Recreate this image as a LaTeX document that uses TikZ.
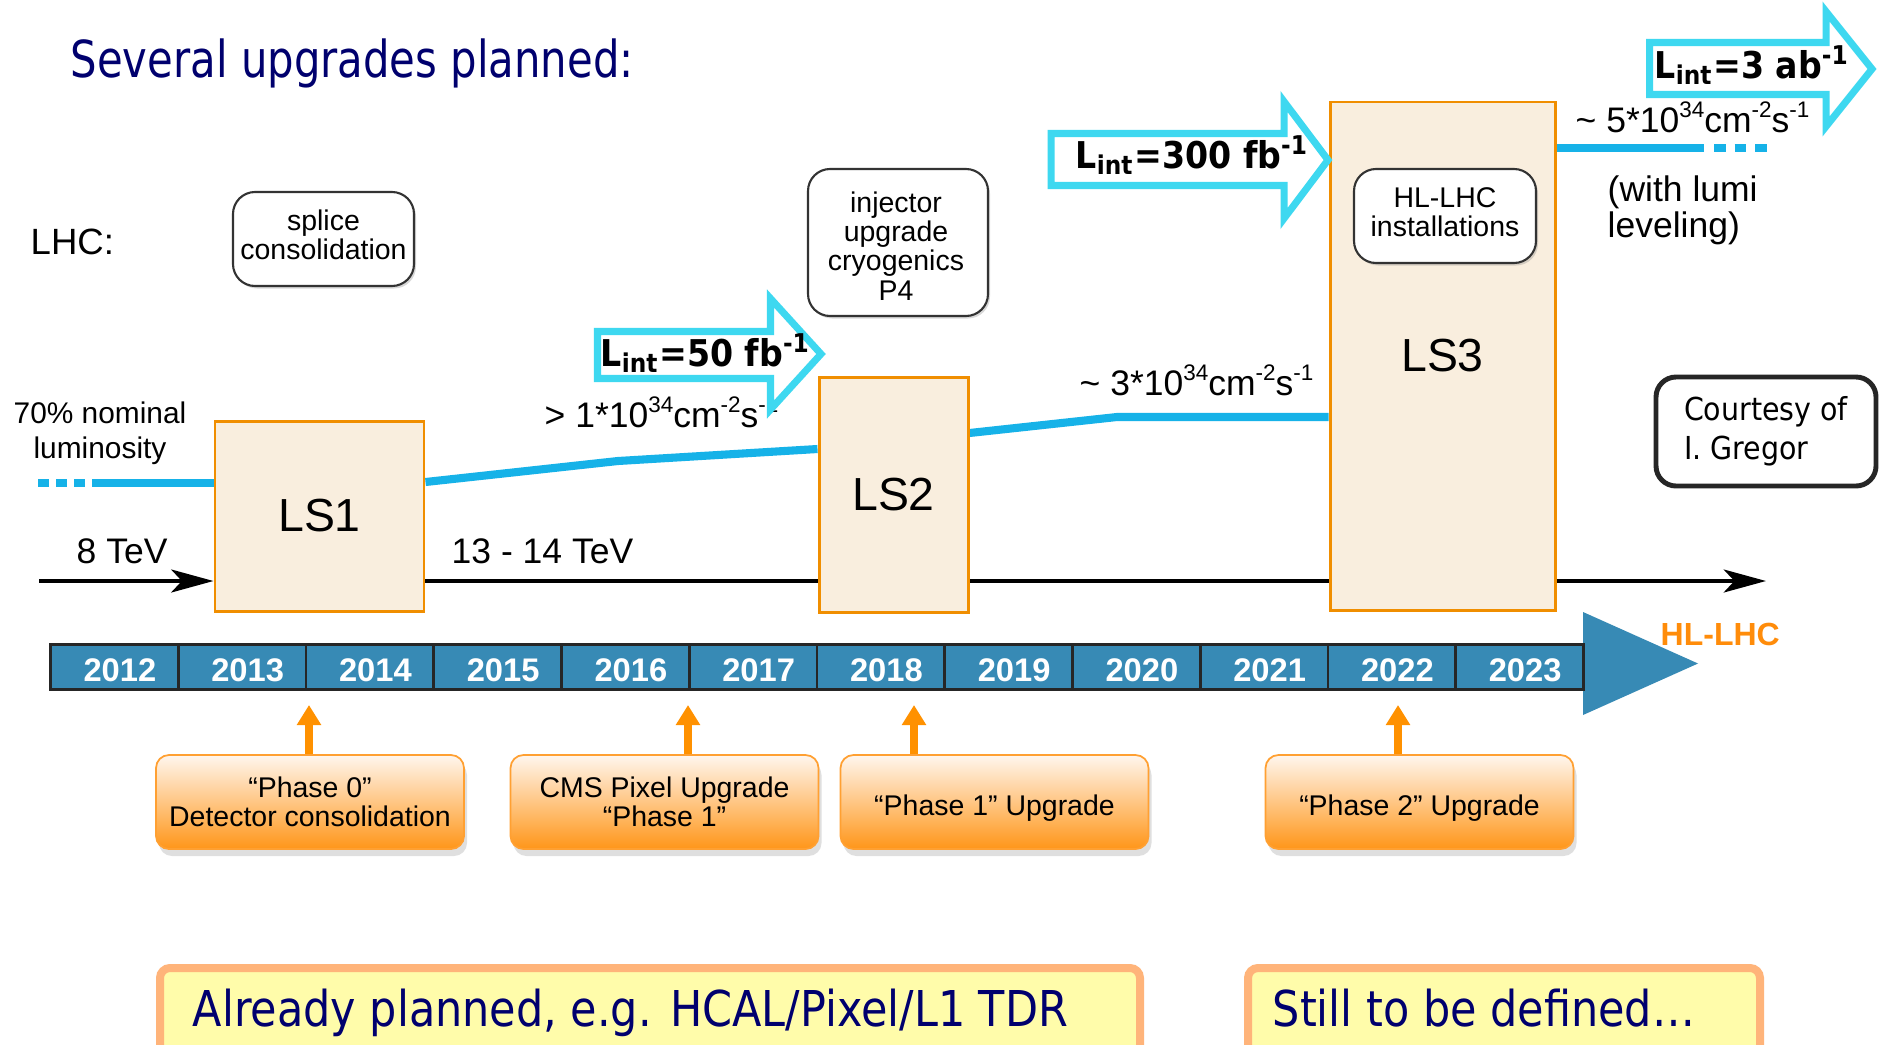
\documentclass[tikz,border=0pt]{standalone}
\usepackage{fontspec}
\setmainfont{Liberation Sans}
\newfontfamily\titlefont[FakeStretch=0.82]{DejaVu Sans}
\newfontfamily\bottomfont[FakeStretch=0.87]{DejaVu Sans}
\newfontfamily\courtfont[FakeStretch=0.9]{DejaVu Sans}
\newfontfamily\lintfont[FakeStretch=0.9]{DejaVu Sans}
\newcommand\supx[1]{\raisebox{0.78ex}{\fontsize{6.4}{6.4}\selectfont #1}}
\usetikzlibrary{arrows.meta,shadows,calc}
\pgfdeclarelayer{bg}
\pgfsetlayers{bg,main}
\definecolor{navy}{RGB}{0,0,110}
\definecolor{lsfill}{RGB}{249,238,222}
\definecolor{lsorange}{RGB}{240,142,0}
\definecolor{lumiblue}{RGB}{22,178,232}
\definecolor{lintcyan}{RGB}{62,216,240}
\definecolor{yearblue}{RGB}{55,138,181}
\definecolor{uporange}{RGB}{255,145,0}
\definecolor{hlorange}{RGB}{255,140,10}
\definecolor{boxtop}{RGB}{255,246,238}
\definecolor{boxbot}{RGB}{255,150,25}
\definecolor{boxedge}{RGB}{255,160,50}
\definecolor{planfill}{RGB}{255,252,170}
\definecolor{planedge}{RGB}{255,180,122}
\tikzset{
  lsbox/.style={draw=lsorange, fill=lsfill, line width=0.85pt, inner sep=0pt,
    font=\fontsize{13.2}{14}\selectfont},
  notebox/.style={draw=black!80, fill=white, rounded corners=2.2mm, line width=0.6pt,
    inner sep=0pt,
    drop shadow={shadow xshift=0.2mm, shadow yshift=-0.25mm, opacity=0.3}},
  notetext/.style={align=center, inner sep=0pt, font=\fontsize{8.1}{8.3}\selectfont},
  lumiline/.style={draw=lumiblue, line width=2.3pt},
  timeline/.style={draw=black, line width=1.3pt},
  tlarrow/.style={-{Stealth[length=12pt,width=6.5pt,inset=3pt]}},
  lumitext/.style={inner sep=0pt, font=\fontsize{10.1}{10.3}\selectfont},
  linttext/.style={anchor=base west, inner sep=0pt, font=\lintfont\bfseries\fontsize{10.5}{12}\selectfont},
  lintarrow/.style={draw=lintcyan, line width=2pt, fill=white, line join=miter},
  yearcell/.style={draw=black!85, fill=yearblue, line width=0.8pt, minimum width=12.775mm,
    minimum height=4.5mm, inner sep=0pt},
  yeartext/.style={inner sep=0pt, text=white, font=\bfseries\fontsize{9.3}{10}\selectfont},
  uparrow/.style={draw=uporange, line width=2.4pt, -{Triangle[length=5.7pt,width=6.6pt]}},
  upbox/.style={draw=boxedge, line width=0.5pt, rounded corners=1.3mm, top color=boxtop,
    bottom color=boxbot, minimum width=30.8mm, minimum height=9.4mm, inner sep=0pt,
    align=center, font=\fontsize{8.1}{8.3}\selectfont,
    drop shadow={shadow xshift=0.3mm, shadow yshift=-0.7mm, opacity=0.25}},
  oneline/.style={text height=3.25mm, text depth=0.6mm},
  courtbox/.style={draw=black!85, line width=1.4pt, rounded corners=2mm, fill=white,
    minimum width=22mm, minimum height=10.9mm, inner sep=0pt, align=left,
    font=\courtfont\fontsize{9}{11}\selectfont},
  planbox/.style={draw=planedge, fill=planfill, line width=0.8mm, rounded corners=1mm,
    inner sep=0pt, anchor=north west},
  plantext/.style={anchor=base west, inner sep=0pt, text=navy,
    font=\bottomfont\fontsize{14.05}{16}\selectfont},
}
\begin{document}
\begin{tikzpicture}[x=0.1mm,y=-0.1mm]
\useasboundingbox (0,0) rectangle (1881,1044);
\clip (0,0) rectangle (1881,1044);

% title and side label
\node[anchor=base west, inner sep=0pt, text=navy, font=\titlefont\fontsize{14.5}{17}\selectfont]
  (title) at (70,77) {Several upgrades planned:};
\node[lumitext, anchor=base west, font=\fontsize{10.4}{11}\selectfont] (lhc) at (30,254) {LHC:};

% long shutdown boxes
\node[lsbox, minimum width=20.9mm, minimum height=19mm] (LS1) at (319.5,516) {LS1};
\node[lsbox, minimum width=14.9mm, minimum height=23.5mm] (LS2) at (893.5,494.5) {LS2};
\node[lsbox, minimum width=22.5mm, minimum height=50.8mm] (LS3) at (1442.5,356) {LS3};

% work notes
\node[notebox, minimum width=18.1mm, minimum height=9.4mm] (splice) at (323.5,239) {};
\node[notetext] (splicet) at (323.5,235) {splice\\consolidation};
\node[notebox, minimum width=18mm, minimum height=14.7mm] (injector) at (898,242.5) {};
\node[notetext] (injectort) at (896,246) {injector\\upgrade\\cryogenics\\P4};
\node[notebox, minimum width=18.2mm, minimum height=9.4mm] (hlinst) at (1445,216) {};
\node[notetext] (hlinstt) at (1445,212) {HL-LHC\\installations};

% background: white, timeline, luminosity line
\begin{pgfonlayer}{bg}
\fill[white] (0,0) rectangle (1881,1044);
\coordinate (tl0) at (39,581);
\coordinate (tl1) at (1766,581);
\draw[timeline, tlarrow] (tl0) -- (tl0 -| LS1.west);
\draw[timeline] (tl0 -| LS1.east) -- (tl0 -| LS2.west);
\draw[timeline] (tl0 -| LS2.east) -- (tl0 -| LS3.west);
\draw[timeline, tlarrow] (tl0 -| LS3.east) -- (tl1);

\coordinate (d0) at (38,483);
\coordinate (d1) at (86,483);
\coordinate (a0) at (92,483);
\draw[lumiline, dash pattern=on 1.1mm off 0.7mm] (d0) -- (d1);
\draw[lumiline] (a0) -- (a0 -| LS1.west);
\coordinate (e1) at (0,482);
\coordinate (k1) at (618,461);
\coordinate (e2) at (0,449);
\draw[lumiline] (LS1.east |- e1) -- (k1) -- (LS2.west |- e2);
\coordinate (e3) at (0,433);
\coordinate (k2) at (1117,417);
\draw[lumiline] (LS2.east |- e3) -- (k2) -- (LS3.west |- k2);
\coordinate (e4) at (1704,148);
\draw[lumiline] (LS3.east |- e4) -- (e4);
\coordinate (f0) at (1714,148);
\coordinate (f1) at (1767,148);
\draw[lumiline, dash pattern=on 1.15mm off 0.9mm] (f0) -- (f1);
\end{pgfonlayer}

% energy and luminosity labels
\node[lumitext, anchor=base west] (e8) at (76,563) {8 TeV};
\node[lumitext, anchor=base west] (e13) at (451,563) {13 - 14 TeV};
\node[lumitext, align=center, font=\fontsize{8.5}{10}\selectfont] (nominal) at (100,433) {70\% nominal\\luminosity};
\node[lumitext, anchor=base west] (lum1) at (544,427) {> 1*10\supx{34}cm\supx{-2}s\supx{-1}};
\node[lumitext, anchor=base west] (lum2) at (1079,395) {\textasciitilde\ 3*10\supx{34}cm\supx{-2}s\supx{-1}};
\node[lumitext, anchor=base west] (lum3) at (1575,132) {\textasciitilde\ 5*10\supx{34}cm\supx{-2}s\supx{-1}};
\node[lumitext, anchor=west, align=left] (level) at (1607,210) {(with lumi\\leveling)};

% integrated luminosity block arrows
\draw[lintarrow] (597.5,331.5) -- (770.5,331.5) -- (770.5,298.5) -- (821,354) -- (770.5,409.5) -- (770.5,378.5) -- (597.5,378.5) -- cycle;
\draw[lintarrow] (1051,133.5) -- (1284,133.5) -- (1284,101.5) -- (1328,160) -- (1284,218.5) -- (1284,185.5) -- (1051,185.5) -- cycle;
\draw[lintarrow] (1649.5,42.5) -- (1826,42.5) -- (1826,11.5) -- (1872,69) -- (1826,126.5) -- (1826,94.5) -- (1649.5,94.5) -- cycle;
\node[linttext] (lint1) at (600,366) {L\textsubscript{int}=50 fb\textsuperscript{-1}};
\node[linttext] (lint2) at (1075,168) {L\textsubscript{int}=300 fb\textsuperscript{-1}};
\node[linttext] (lint3) at (1654,78) {L\textsubscript{int}=3 ab\textsuperscript{-1}};

% year bar
\fill[yearblue] (1583,612) -- (1698,663.5) -- (1583,715) -- cycle;
\foreach \yr [count=\i from 0] in {2012,...,2023}{
  \node[yearcell] (y\yr) at ({50.5+127.75*(\i+0.5)},667) {};
  \node[yeartext] (t\yr) at ({56+127.75*(\i+0.5)},670) {\yr};
}
\node[anchor=base west, inner sep=0pt, text=hlorange, font=\bfseries\fontsize{9.1}{11}\selectfont]
  (hllhc) at (1660,645) {HL-LHC};

% detector upgrade boxes
\node[upbox] (ph0) at (310,802) {“Phase 0”\\Detector consolidation};
\node[upbox] (cms) at (664.5,802) {CMS Pixel Upgrade\\“Phase 1”};
\node[upbox, oneline] (ph1) at (994.5,802) {“Phase 1” Upgrade};
\node[upbox, oneline] (ph2) at (1419.5,802) {“Phase 2” Upgrade};
\coordinate (u1) at (309,705);
\coordinate (u2) at (688,705);
\coordinate (u3) at (914,705);
\coordinate (u4) at (1398,705);
\draw[uparrow] (u1 |- ph0.north) -- (u1);
\draw[uparrow] (u2 |- cms.north) -- (u2);
\draw[uparrow] (u3 |- ph1.north) -- (u3);
\draw[uparrow] (u4 |- ph2.north) -- (u4);

% courtesy
\node[courtbox] (courtesy) at (1766,431.5) {Courtesy of\\I. Gregor};

% bottom boxes
\node[planbox, minimum width=98mm, minimum height=14mm] (planA) at (156,964) {};
\node[planbox, minimum width=51.2mm, minimum height=14mm] (planB) at (1244,964) {};
\node[plantext] (planAt) at (192,1026) {Already planned, e.g. HCAL/Pixel/L1 TDR};
\node[plantext] (planBt) at (1272,1026) {Still to be defined…};
\end{tikzpicture}
\end{document}
